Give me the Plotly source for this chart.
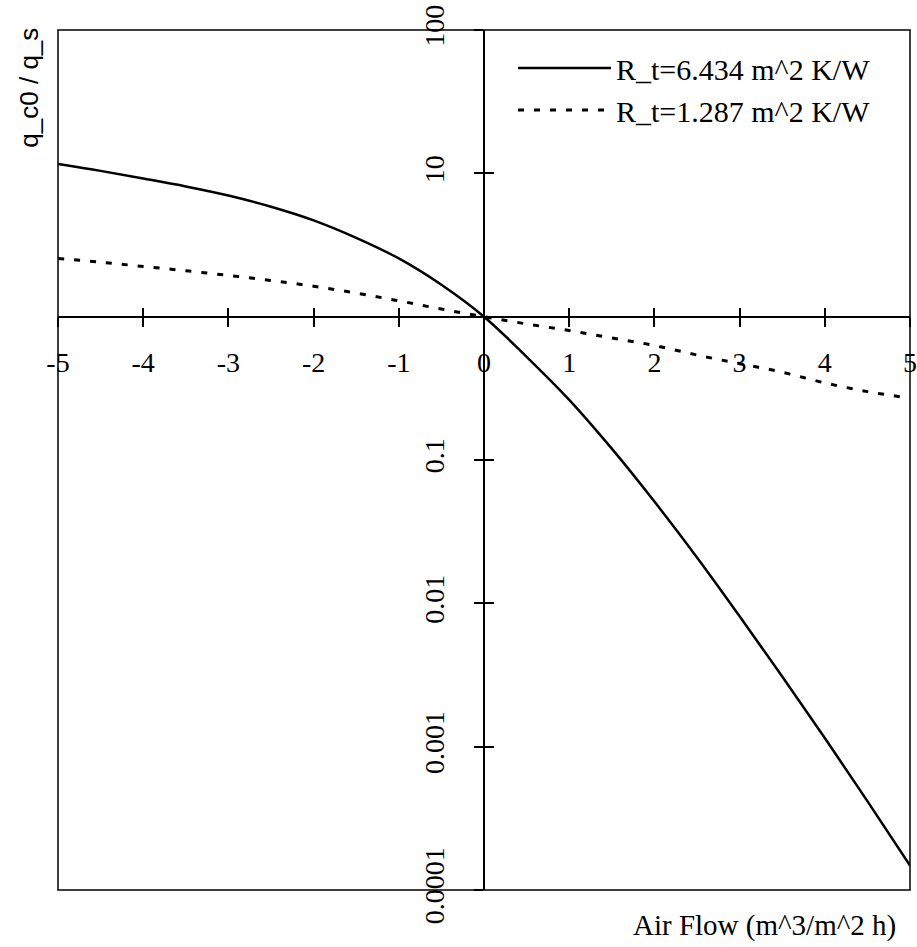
import plotly.graph_objects as go

# ---- data ----
air_flow = [-5, -4.5, -4, -3.5, -3, -2.5, -2, -1.5, -1, -0.5, 0,
            0.5, 1, 1.5, 2, 2.5, 3, 3.5, 4, 4.5, 5]
ratio_rt_6434 = [11.6, 10.4, 9.2, 8.1, 7.0, 5.85, 4.7, 3.55, 2.55, 1.67, 1.0,
                 0.525, 0.263, 0.120, 0.0513, 0.0209, 0.00813, 0.00309,
                 0.00115, 0.000417, 0.000148]
ratio_rt_1287 = [2.55, 2.40, 2.24, 2.09, 1.94, 1.79, 1.63, 1.46, 1.29, 1.13, 1.0,
                 0.89, 0.80, 0.71, 0.63, 0.54, 0.47, 0.41, 0.345, 0.30, 0.27]
series_names = ["R_t=6.434 m^2 K/W", "R_t=1.287 m^2 K/W"]

x_tick_vals = [-5, -4, -3, -2, -1, 0, 1, 2, 3, 4, 5]
x_tick_text = ["-5", "-4", "-3", "-2", "-1", "0", "1", "2", "3", "4", "5"]
y_tick_vals = [0.0001, 0.001, 0.01, 0.1, 10, 100]
y_tick_text = ["0.0001", "0.001", "0.01", "0.1", "10", "100"]

x_title = "Air Flow (m^3/m^2 h)"
y_title = "q_c0 / q_s"

SERIF = "Liberation Serif, Times New Roman, serif"
SANS = "Liberation Sans, Arial, sans-serif"

fig = go.Figure()
fig.add_trace(go.Scatter(
    x=air_flow, y=ratio_rt_6434, mode="lines", name=series_names[0],
    line=dict(color="black", width=2.5, shape="spline"),
))
fig.add_trace(go.Scatter(
    x=air_flow, y=ratio_rt_1287, mode="lines", name=series_names[1],
    line=dict(color="black", width=3, dash="6px,10px", shape="spline"),
))
# helper trace so the overlay axes (crossing tick marks) are drawn
fig.add_trace(go.Scatter(x=[], y=[], xaxis="x2", yaxis="y2",
                         showlegend=False, hoverinfo="skip"))

y_cross = 4 / 6  # paper fraction where y = 1 on log range [-4, 2]

fig.update_layout(
    width=917, height=947,
    margin=dict(l=58, r=7, t=30, b=57, autoexpand=False),
    paper_bgcolor="white", plot_bgcolor="white",
    font=dict(family=SERIF, size=28, color="black"),
    showlegend=True,
    legend=dict(
        x=0.534, y=0.986, xanchor="left", yanchor="top",
        font=dict(family=SERIF, size=30, color="black"),
        bgcolor="rgba(0,0,0,0)", borderwidth=0,
        itemwidth=93,
    ),
    xaxis=dict(
        range=[-5, 5], anchor="free", position=y_cross, automargin=False,
        showline=True, linecolor="black", linewidth=2,
        ticks="outside", ticklen=9, tickwidth=1.5, tickcolor="black",
        tickvals=x_tick_vals, ticktext=x_tick_text,
        tickfont=dict(family=SERIF, size=28),
        ticklabelstandoff=12, ticklabeloverflow="allow",
        showgrid=False, zeroline=False,
    ),
    xaxis2=dict(
        range=[-5, 5], overlaying="x", anchor="free", position=y_cross,
        automargin=False,
        showline=False, ticks="inside", ticklen=9, tickwidth=1.5,
        tickcolor="black", tickvals=x_tick_vals, showticklabels=False,
        showgrid=False, zeroline=False,
    ),
    yaxis=dict(
        type="log", range=[-4, 2], anchor="free", position=0.5,
        automargin=False,
        showline=True, linecolor="black", linewidth=1.5,
        ticks="outside", ticklen=9, tickwidth=1.5, tickcolor="black",
        tickvals=y_tick_vals, ticktext=y_tick_text, tickangle=-90,
        tickfont=dict(family=SERIF, size=28),
        ticklabelstandoff=19, ticklabeloverflow="allow",
        showgrid=False, zeroline=False,
    ),
    yaxis2=dict(
        type="log", range=[-4, 2], overlaying="y", anchor="free", position=0.5,
        automargin=False,
        showline=False, ticks="inside", ticklen=9, tickwidth=1.5,
        tickcolor="black", tickvals=y_tick_vals, showticklabels=False,
        showgrid=False, zeroline=False,
    ),
    shapes=[dict(type="rect", xref="paper", yref="paper",
                 x0=0, y0=0, x1=1, y1=1,
                 line=dict(color="black", width=1.5), layer="below")],
    annotations=[
        dict(text=x_title, xref="paper", yref="paper",
             x=0.986, y=-0.041, xanchor="right", yanchor="middle",
             showarrow=False, font=dict(family=SERIF, size=29)),
        dict(text=y_title, xref="paper", yref="paper", textangle=-90,
             x=-0.034, y=0.933, xanchor="center", yanchor="middle",
             showarrow=False, font=dict(family=SANS, size=26)),
    ],
)

# remove the browser's default 8px body margin so the figure fills the window
fig.write_html("out.html",
               config={"displayModeBar": False},
               post_script="document.body.style.margin='0px';")
